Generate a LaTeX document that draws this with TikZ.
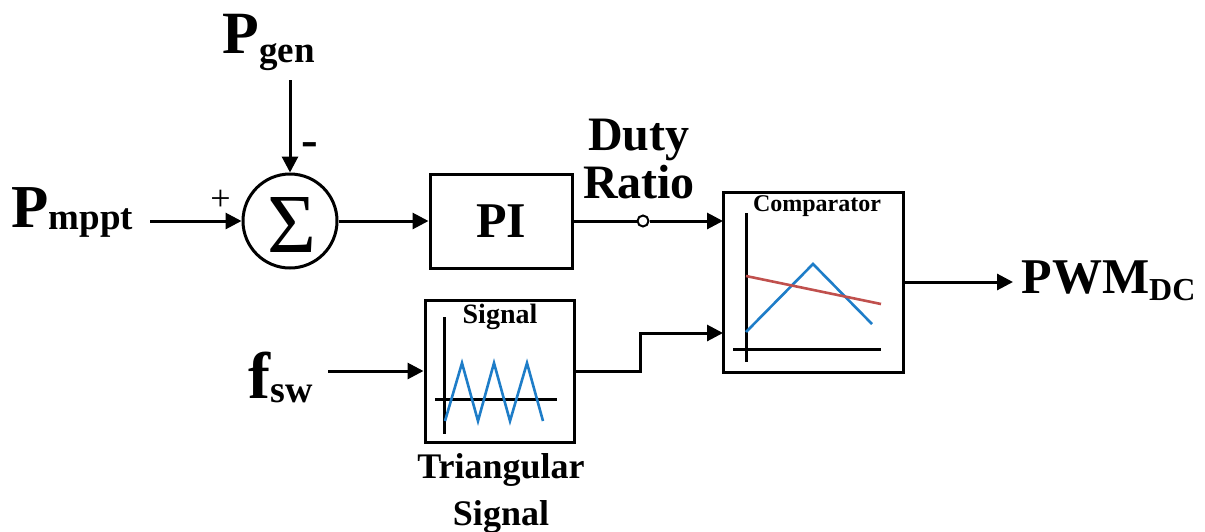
\documentclass[tikz,border=0pt]{standalone}
\usepackage{fontspec}
\setmainfont{Liberation Serif}
\usetikzlibrary{arrows.meta}
\definecolor{tblue}{RGB}{30,125,200}
\definecolor{tred}{RGB}{192,80,77}
\newcommand{\fsz}[1]{\fontsize{#1}{#1}\selectfont}
\begin{document}
\begin{tikzpicture}[x=1pt,y=-1pt,line width=3pt,
  blk/.style={draw, line width=3pt, inner sep=0pt, rectangle},
  lbl/.style={inner sep=0pt, font=\bfseries},
  conn/.style={line width=3pt, -{Triangle[length=16pt,width=16pt]}},
  axis/.style={line width=3pt, black},
  wave/.style={line width=2.6pt, tblue},
  ref/.style={line width=2.6pt, tred}]
\fill[white] (0,0) rectangle (1205,531);
\useasboundingbox (0,0) rectangle (1205,531);

% blocks
\node[draw, circle, line width=3pt, minimum size=94pt, inner sep=0pt] (sum) at (290,221) {};
\node[inner sep=0pt, font=\fsz{84}] (sigma) at (292,224.5) {Σ};
\node[blk, minimum width=142pt, minimum height=94pt, font=\bfseries\fsz{50}] (pi) at (501,221) {PI};
\node[blk, minimum width=180pt, minimum height=180pt] (comp) at (813,282) {};
\node[blk, minimum width=149pt, minimum height=142pt] (sig) at (499.5,371) {};

% labels
\node[lbl, anchor=base west] (pmppt) at (10,227) {{\fsz{61}P}\raisebox{-2pt}{\fsz{37}mppt}};
\node[lbl, anchor=base west] (pgen) at (221,53) {{\fsz{60}P}\raisebox{-9pt}{\fsz{37}gen}};
\node[lbl, anchor=base west] (pwm) at (1020,293) {{\fsz{50}PWM}\raisebox{-7pt}{\fsz{32}DC}};
\node[lbl, anchor=base west] (fsw) at (247,398) {{\fsz{66}f}\raisebox{-4pt}{\fsz{38}sw}};
\node[lbl, anchor=base, font=\bfseries\fsz{48}] (duty) at (639,150) {Duty};
\node[lbl, anchor=base, font=\bfseries\fsz{48}] (ratio) at (639,198) {Ratio};
\node[lbl, anchor=base, font=\bfseries\fsz{24}] (cmpl) at (817,211) {Comparator};
\node[lbl, anchor=base, font=\bfseries\fsz{28}] (sigl) at (500,323) {Signal};
\node[lbl, anchor=base, font=\bfseries\fsz{36}] (tri1) at (501,478) {Triangular};
\node[lbl, anchor=base, font=\bfseries\fsz{36}] (tri2) at (501,525) {Signal};
\node[inner sep=0pt, font=\fsz{36}] (plus) at (220.5,200) {+};
\node[lbl, anchor=base, font=\bfseries\fsz{50}] (minus) at (309.5,156.5) {-};

% connectors
\coordinate (pmIn) at (150,221);
\coordinate (pgIn) at (290,80);
\coordinate (cin1) at (723,221);
\coordinate (cin2) at (723,333);
\coordinate (stepc) at (640,333);
\coordinate (fswOut) at (328,371);
\coordinate (pwmIn) at (1013,282);
\node[circle, draw, fill=white, line width=2pt, minimum size=11pt, inner sep=0pt] (dot) at (643,221) {};

\draw[conn] (pmIn) -- (sum.west);
\draw[conn] (pgIn) -- (sum.north);
\draw[conn] (sum.east) -- (pi.west);
\draw[line width=3pt] (pi.east) -- (dot.west);
\draw[conn] (dot.east) -- (cin1);
\draw[conn] (fswOut) -- (sig.west);
\draw[conn] (sig.east) -| (stepc) -- (cin2);
\draw[conn] (comp.east) -- (pwmIn);

% comparator plot
\draw[axis] (746,213) -- (746,362);
\draw[axis] (733,349) -- (881,349);
\draw[wave] (746,332) -- (813,264) -- (872,324);
\draw[ref] (746,276) -- (881,304);

% triangular signal plot
\draw[axis] (444,317) -- (444,434);
\draw[axis] (435,399) -- (557,399);
\draw[wave] (445,421) -- (462,363) -- (478,421) -- (494,363) -- (510,421) -- (527,363) -- (543,421);
\end{tikzpicture}
\end{document}
